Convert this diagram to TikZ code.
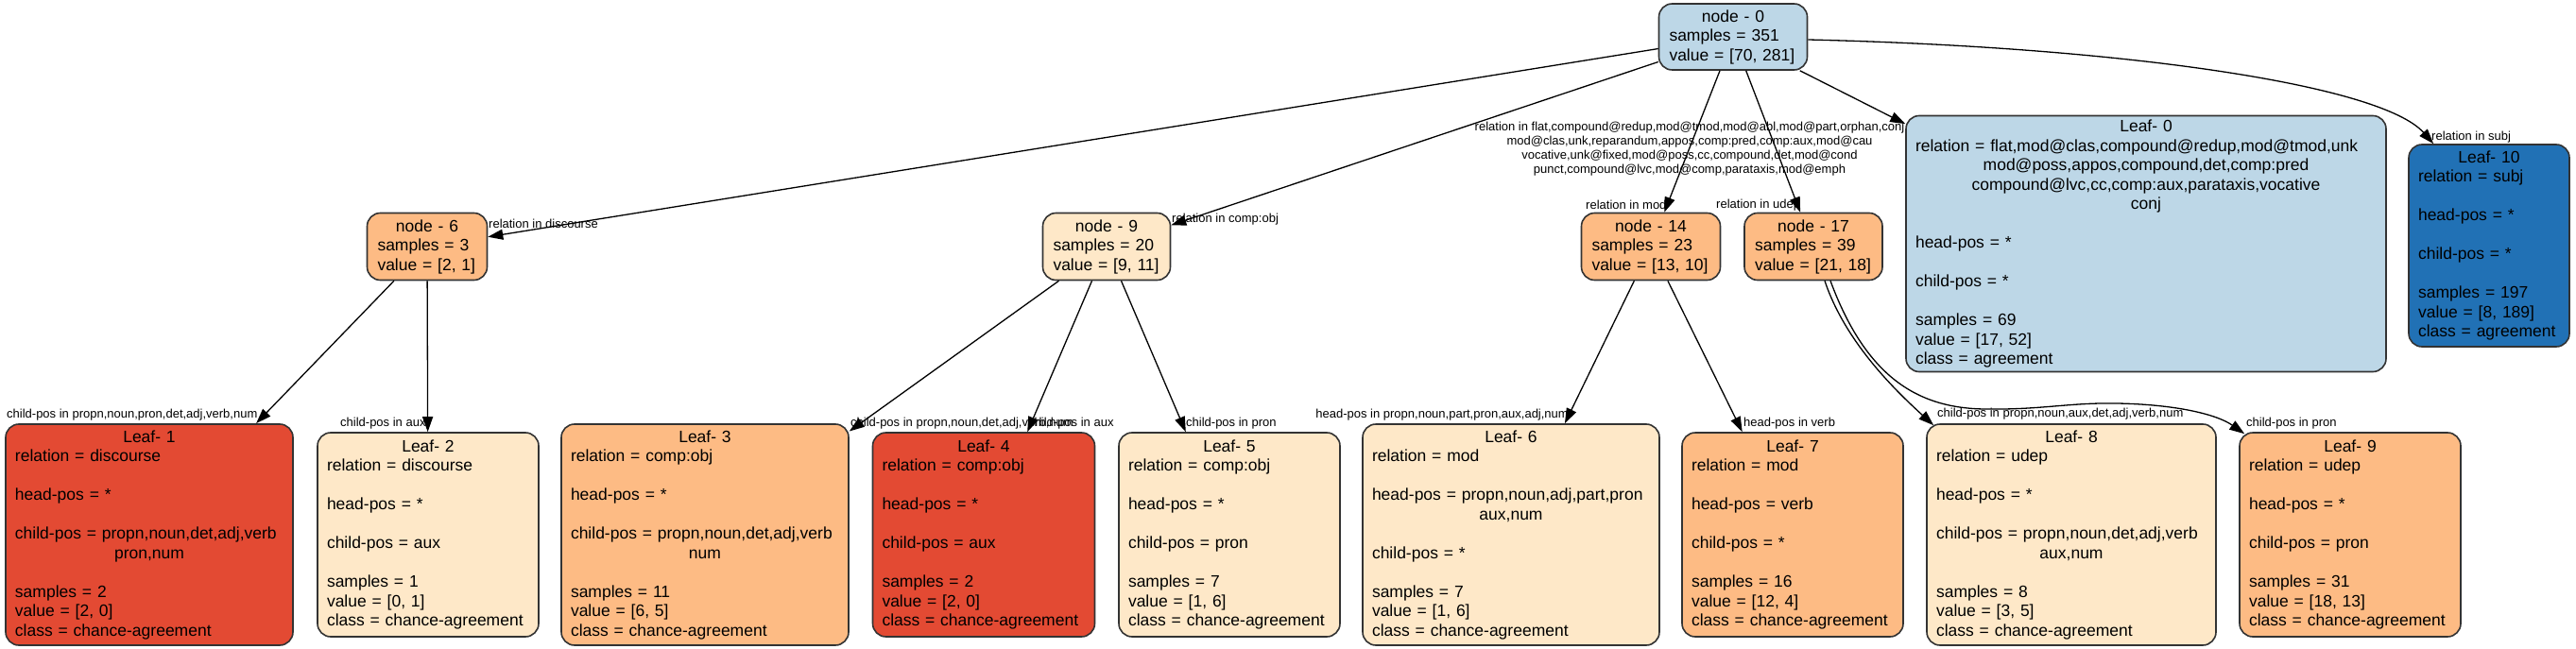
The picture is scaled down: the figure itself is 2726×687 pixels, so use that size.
\documentclass[tikz,border=0pt]{standalone}
\usepackage{fontspec}
\setmainfont{Liberation Sans}
\usetikzlibrary{arrows.meta,calc}

\definecolor{cream}{HTML}{FEE8C8}
\definecolor{lorange}{HTML}{FDBB84}
\definecolor{redor}{HTML}{E34A33}
\definecolor{lblue}{HTML}{BDD7E7}
\definecolor{dblue}{HTML}{2171B5}
\definecolor{bordergray}{HTML}{333333}

\newcommand{\mycenter}[1]{\makebox[\hsize][c]{#1}}
\newcommand{\skipln}{\\[20.5pt]}

\begin{document}
\begin{tikzpicture}[x=1pt,y=-1pt,
  box/.style={draw=bordergray, line width=1.6pt, rounded corners=14pt, font=\fontsize{17.5}{20.5}\selectfont},
  innode/.style={box, align=left, inner xsep=11pt, inner ysep=0pt, minimum height=71pt},
  leaf/.style={box, align=left, inner xsep=10pt, inner ysep=0pt},
  edge/.style={draw, line width=1.3pt, -{Triangle[length=16pt,width=11pt]}},
  elab/.style={font=\fontsize{13}{15}\selectfont, inner sep=0pt},
]
\fill[white] (0,0) rectangle (2726,687);
\useasboundingbox (0,0) rectangle (2726,687);

% internal nodes
\node[innode, fill=lblue, text width=135pt, minimum height=70pt] (n0) at (1834,39) {\mycenter{node - 0}\\samples = 351\\value = [70, 281]};
\node[innode, fill=lorange, text width=105pt] (n6) at (452,261) {\mycenter{node - 6}\\samples = 3\\value = [2, 1]};
\node[innode, fill=cream, text width=113pt] (n9) at (1171,261) {\mycenter{node - 9}\\samples = 20\\value = [9, 11]};
\node[innode, fill=lorange, text width=125pt] (n14) at (1747,261) {\mycenter{node - 14}\\samples = 23\\value = [13, 10]};
\node[innode, fill=lorange, text width=124pt] (n17) at (1919,261) {\mycenter{node - 17}\\samples = 39\\value = [21, 18]};

% leaves, upper row
\node[leaf, fill=lblue, text width=488pt, minimum height=271pt] (L0) at (2271,258) {%
\mycenter{Leaf- 0}\\
relation = flat,mod@clas,compound@redup,mod@tmod,unk\\
\mycenter{mod@poss,appos,compound,det,comp:pred}\\
\mycenter{compound@lvc,cc,comp:aux,parataxis,vocative}\\
\mycenter{conj}\skipln
head-pos = *\skipln
child-pos = *\skipln
samples = 69\\
value = [17, 52]\\
class = agreement};
\node[leaf, fill=dblue, text width=150pt, minimum height=214pt] (L10) at (2634,260) {%
\mycenter{Leaf- 10}\\
relation = subj\skipln
head-pos = *\skipln
child-pos = *\skipln
samples = 197\\
value = [8, 189]\\
class = agreement};

% leaves, lower row
\node[leaf, fill=redor, text width=284pt, minimum height=234pt] (L1) at (158,566) {%
\mycenter{Leaf- 1}\\
relation = discourse\skipln
head-pos = *\skipln
child-pos = propn,noun,det,adj,verb\\
\mycenter{pron,num}\skipln
samples = 2\\
value = [2, 0]\\
class = chance-agreement};
\node[leaf, fill=cream, text width=214pt, minimum height=216pt] (L2) at (453,566) {%
\mycenter{Leaf- 2}\\
relation = discourse\skipln
head-pos = *\skipln
child-pos = aux\skipln
samples = 1\\
value = [0, 1]\\
class = chance-agreement};
\node[leaf, fill=lorange, text width=284pt, minimum height=234pt] (L3) at (746,566) {%
\mycenter{Leaf- 3}\\
relation = comp:obj\skipln
head-pos = *\skipln
child-pos = propn,noun,det,adj,verb\\
\mycenter{num}\skipln
samples = 11\\
value = [6, 5]\\
class = chance-agreement};
\node[leaf, fill=redor, text width=215pt, minimum height=216pt] (L4) at (1041,566) {%
\mycenter{Leaf- 4}\\
relation = comp:obj\skipln
head-pos = *\skipln
child-pos = aux\skipln
samples = 2\\
value = [2, 0]\\
class = chance-agreement};
\node[leaf, fill=cream, text width=214pt, minimum height=216pt] (L5) at (1301,566) {%
\mycenter{Leaf- 5}\\
relation = comp:obj\skipln
head-pos = *\skipln
child-pos = pron\skipln
samples = 7\\
value = [1, 6]\\
class = chance-agreement};
\node[leaf, fill=cream, text width=294pt, minimum height=234pt] (L6) at (1599,566) {%
\mycenter{Leaf- 6}\\
relation = mod\skipln
head-pos = propn,noun,adj,part,pron\\
\mycenter{aux,num}\skipln
child-pos = *\skipln
samples = 7\\
value = [1, 6]\\
class = chance-agreement};
\node[leaf, fill=lorange, text width=214pt, minimum height=216pt] (L7) at (1897,566) {%
\mycenter{Leaf- 7}\\
relation = mod\skipln
head-pos = verb\skipln
child-pos = *\skipln
samples = 16\\
value = [12, 4]\\
class = chance-agreement};
\node[leaf, fill=cream, text width=286pt, minimum height=234pt] (L8) at (2192,566) {%
\mycenter{Leaf- 8}\\
relation = udep\skipln
head-pos = *\skipln
child-pos = propn,noun,det,adj,verb\\
\mycenter{aux,num}\skipln
samples = 8\\
value = [3, 5]\\
class = chance-agreement};
\node[leaf, fill=lorange, text width=214pt, minimum height=216pt] (L9) at (2487,566) {%
\mycenter{Leaf- 9}\\
relation = udep\skipln
head-pos = *\skipln
child-pos = pron\skipln
samples = 31\\
value = [18, 13]\\
class = chance-agreement};

% edges
\draw[edge] (n0) -- (n6);
\draw[edge] (n0) -- (n9);
\draw[edge] (n0) -- (n14);
\draw[edge] (n0) -- (n17);
\draw[edge] (n0) -- (L0);
\draw[edge] ($(n0.east)+(0,3)$) .. controls (2250,50) and (2520,90) .. ($(L10.north west)+(27,0)$);
\draw[edge] (n6) -- (L1);
\draw[edge] (n6) -- (L2);
\draw[edge] (n9) -- (L3);
\draw[edge] (n9) -- (L4);
\draw[edge] (n9) -- (L5);
\draw[edge] (n14) -- (L6);
\draw[edge] (n14) -- (L7);
\draw[edge] ($(n17.south)+(12,0)$) .. controls (1952,360) and (2002,410) .. ($(L8.north west)+(8,2)$);
\draw[edge] ($(n17.south)+(18,0)$) .. controls (1975,400) and (2030,432) .. (2100,433)
  .. controls (2160,434) and (2190,426) .. (2240,427)
  .. controls (2300,428) and (2345,438) .. ($(L9.north west)+(6,2)$);

% edge labels
\node[elab, anchor=west] (e6) at (517,237) {relation in discourse};
\node[elab, anchor=west] (e9) at (1240,232) {relation in comp:obj};
\node[elab, align=center] (eL0) at (1788,158) {relation in flat,compound@redup,mod@tmod,mod@abl,mod@part,orphan,conj\\
mod@clas,unk,reparandum,appos,comp:pred,comp:aux,mod@cau\\
vocative,unk@fixed,mod@poss,cc,compound,det,mod@cond\\
punct,compound@lvc,mod@comp,parataxis,mod@emph};
\node[elab, anchor=west] (e14) at (1678,217) {relation in mod};
\node[elab, anchor=west] (e17) at (1816,217) {relation in udep};
\node[elab, anchor=west] (e10) at (2573,145) {relation in subj};
\node[elab, anchor=west] (e1) at (7,439) {child-pos in propn,noun,pron,det,adj,verb,num};
\node[elab, anchor=west] (e2) at (360,448) {child-pos in aux};
\node[elab, anchor=west] (e3) at (900,448) {child-pos in propn,noun,det,adj,verb,num};
\node[elab, anchor=west] (e4) at (1088,448) {child-pos in aux};
\node[elab, anchor=west] (e5) at (1255,448) {child-pos in pron};
\node[elab, anchor=east] (e6b) at (1660,439) {head-pos in propn,noun,part,pron,aux,adj,num};
\node[elab, anchor=west] (e7) at (1845,448) {head-pos in verb};
\node[elab, anchor=west] (e8) at (2050,438) {child-pos in propn,noun,aux,det,adj,verb,num};
\node[elab, anchor=west] (e9b) at (2377,448) {child-pos in pron};
\end{tikzpicture}
\end{document}
